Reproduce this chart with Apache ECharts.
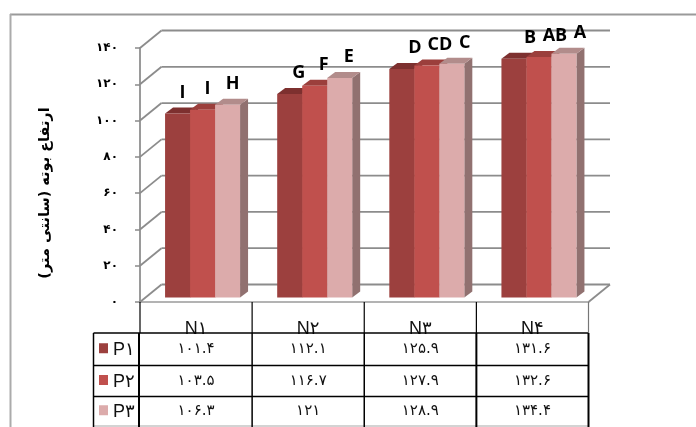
<!DOCTYPE html>
<html>
<head>
<meta charset="utf-8">
<style>html,body{margin:0;padding:0;background:#fff}#chart{width:696px;height:427px}</style>
<script src="https://cdn.jsdelivr.net/npm/echarts@6/dist/echarts.min.js"></script>
</head>
<body>
<div id="chart"></div>
<script>
// Plant height by nitrogen level (N) and phosphorus level (P)
const categories = ['N۱', 'N۲', 'N۳', 'N۴'];
const seriesNames = ['P۱', 'P۲', 'P۳'];
const p1Values = [101.4, 112.1, 125.9, 131.6];
const p2Values = [103.5, 116.7, 127.9, 132.6];
const p3Values = [106.3, 121, 128.9, 134.4];
const p1Letters = ['I', 'G', 'D', 'B'];
const p2Letters = ['I', 'F', 'CD', 'AB'];
const p3Letters = ['H', 'E', 'C', 'A'];
const p1Cells = ['۱۰۱.۴', '۱۱۲.۱', '۱۲۵.۹', '۱۳۱.۶'];
const p2Cells = ['۱۰۳.۵', '۱۱۶.۷', '۱۲۷.۹', '۱۳۲.۶'];
const p3Cells = ['۱۰۶.۳', '۱۲۱', '۱۲۸.۹', '۱۳۴.۴'];
const yTicks = [0, 20, 40, 60, 80, 100, 120, 140];
const yTickLabels = ['۰', '۲۰', '۴۰', '۶۰', '۸۰', '۱۰۰', '۱۲۰', '۱۴۰'];
const yTitle = '\u200Fارتفاع بوته (سانتی متر)\u200F';

// Perspective and layout constants for the pseudo-3D look
const WALL_DX = 21.5, WALL_DY = -17.5;   // floor depth
const BAR_DX = 8, BAR_DY = -6;           // bar depth
const PLANE_DX = 6.5, PLANE_DY = -4.5;   // bars stand a little behind the front edge
const BAR_W = 25;
const LETTER_RISE = 21;                  // letter height above a bar's front top
const LETTER_SHIFT = [5, 9, 13, 16];     // the letters drift right, group by group

const palette = [
  { front: '#9c403e', top: '#7d302f', side: '#7d302f' },
  { front: '#c0504d', top: '#9b3f3c', side: '#9b3f3c' },
  { front: '#dcabab', top: '#b28c8b', side: '#917170' }
];
const GRID_COLOR = '#8c8c8c';

const grid = { left: 140, right: 107.5, top: 48, bottom: 125 };

function wallItem(params, api) {
  const v = api.value(0);
  const p = api.coord([0, v]);
  const x0 = grid.left;
  const x1 = 696 - grid.right;
  const y = p[1];
  const line = (a, b, c, d) => ({
    type: 'line',
    shape: { x1: a, y1: b, x2: c, y2: d },
    style: { stroke: GRID_COLOR, lineWidth: 1.8 }
  });
  const children = [
    line(x0, y, x0 + WALL_DX, y + WALL_DY),
    line(x0 + WALL_DX, y + WALL_DY, x1 + WALL_DX, y + WALL_DY)
  ];
  if (v === 0) children.push(line(x1, y, x1 + WALL_DX, y + WALL_DY));
  return { type: 'group', children };
}

function barRenderer(seriesIndex, letters) {
  return function (params, api) {
    const cat = api.value(0);
    const val = api.value(1);
    const top = api.coord([cat, val]);
    const base = api.coord([cat, 0]);
    const x = top[0] + PLANE_DX + (seriesIndex - 1.5) * BAR_W;
    const yT = top[1] + PLANE_DY;
    const yB = base[1] + PLANE_DY;
    const c = palette[seriesIndex];
    const poly = (points, fill) => ({
      type: 'polygon', shape: { points }, style: { fill, stroke: null }
    });
    return {
      type: 'group',
      children: [
        poly([[x + BAR_W, yT], [x + BAR_W + BAR_DX, yT + BAR_DY], [x + BAR_W + BAR_DX, yB + BAR_DY], [x + BAR_W, yB]], c.side),
        poly([[x, yT], [x + BAR_DX, yT + BAR_DY], [x + BAR_W + BAR_DX, yT + BAR_DY], [x + BAR_W, yT]], c.top),
        { type: 'rect', shape: { x, y: yT, width: BAR_W, height: yB - yT }, style: { fill: c.front } },
        {
          type: 'text',
          style: {
            text: letters[params.dataIndex],
            x: x + BAR_W / 2 + LETTER_SHIFT[params.dataIndex],
            y: yT - LETTER_RISE,
            align: 'center', verticalAlign: 'middle',
            fill: '#000', font: 'bold 18px "Open Sans", "Liberation Sans", sans-serif'
          }
        }
      ]
    };
  };
}

const valueSets = [p1Values, p2Values, p3Values];
const letterSets = [p1Letters, p2Letters, p3Letters];
const cellSets = [p1Cells, p2Cells, p3Cells];

// Data table beneath the plot, with the legend keys in its first column
function tableGraphics() {
  const left = grid.left;
  const right = 696 - grid.right;
  const colW = (right - left) / categories.length;
  const headTop = 427 - grid.bottom;
  const rows = [333, 365.5, 396.5, 426];
  const tableLeft = 93.5;
  const els = [];
  const seg = (a, b, c, d, stroke, lineWidth) => els.push({
    type: 'line', z: 100, shape: { x1: a, y1: b, x2: c, y2: d }, style: { stroke, lineWidth }
  });
  // outer frame of the chart area
  seg(10, 14.5, 696, 14.5, '#9a9a9a', 2);
  seg(10.5, 14, 10.5, 427, '#ababab', 2);
  // horizontal rules
  seg(tableLeft, rows[0], right, rows[0], '#000', 1.5);
  seg(tableLeft, rows[1], right, rows[1], '#000', 1.5);
  seg(tableLeft, rows[2], right, rows[2], '#000', 1.5);
  seg(tableLeft, rows[3], right, rows[3], '#c4c4c4', 1.5);
  // vertical rules: header part, then body
  for (let i = 0; i <= categories.length; i++) {
    const x = left + colW * i;
    seg(x, headTop, x, rows[0], i === categories.length ? '#777' : '#000', 1.2);
    seg(i === 0 ? x - 1 : x, rows[0], i === 0 ? x - 1 : x, 427, '#000', i === 2 || i === 1 ? 1.5 : 2);
  }
  seg(tableLeft, rows[0], tableLeft, 427, '#000', 1.5);
  // row headers with keys, then the values
  seriesNames.forEach((name, r) => {
    const mid = (rows[r] + rows[r + 1]) / 2;
    els.push({
      type: 'rect', z: 101,
      shape: { x: 99, y: mid - 6, width: 9, height: 10 },
      style: { fill: palette[r].front }
    });
    els.push({
      type: 'text', z: 101,
      style: {
        text: name, x: 113, y: mid + 1, align: 'left', verticalAlign: 'middle',
        fill: '#111', font: '18px "Liberation Sans", "DejaVu Sans", sans-serif'
      }
    });
    cellSets[r].forEach((cell, c) => {
      els.push({
        type: 'text', z: 101,
        style: {
          text: cell, x: left + colW * (c + 0.5), y: mid,
          align: 'center', verticalAlign: 'middle',
          fill: '#111', font: '15px "DejaVu Sans", sans-serif'
        }
      });
    });
  });
  return els;
}

const chart = echarts.init(document.getElementById('chart'), null, { renderer: 'canvas' });
chart.setOption({
  animation: false,
  backgroundColor: '#fff',
  grid,
  graphic: { elements: tableGraphics() },
  xAxis: {
    type: 'category',
    data: categories,
    axisLine: { show: true, lineStyle: { color: '#9a9a9a', width: 1.5 } },
    axisTick: { show: false },
    splitLine: { show: false },
    axisLabel: {
      margin: 18, color: '#111', fontSize: 18, interval: 0,
      fontFamily: '"Liberation Sans", "DejaVu Sans", sans-serif'
    }
  },
  yAxis: {
    type: 'value',
    min: 0, max: 140, interval: 20,
    name: yTitle,
    nameLocation: 'middle',
    nameGap: 87,
    nameRotate: 90,
    nameTextStyle: {
      color: '#000', fontSize: 14.5, fontWeight: 'bold',
      fontFamily: '"DejaVu Sans", sans-serif',
      padding: [0, 36, 0, 0]
    },
    axisLine: { show: true, lineStyle: { color: '#9a9a9a', width: 2 } },
    axisTick: { show: true, length: 5, lineStyle: { color: '#8a8a8a', width: 1.5 } },
    splitLine: { show: false },
    axisLabel: {
      margin: 22, color: '#000', fontSize: 12, fontWeight: 'bold',
      fontFamily: '"DejaVu Sans", sans-serif',
      formatter: (v) => yTickLabels[yTicks.indexOf(v)]
    }
  },
  series: [
    {
      type: 'custom',
      name: 'walls',
      coordinateSystem: 'cartesian2d',
      silent: true,
      z: 1,
      clip: false,
      encode: { y: 0 },
      data: yTicks.map((t) => [t]),
      renderItem: wallItem
    }
  ].concat(seriesNames.map((name, i) => ({
    type: 'custom',
    name,
    coordinateSystem: 'cartesian2d',
    z: 3 + i,
    clip: false,
    encode: { x: 0, y: 1 },
    data: valueSets[i].map((v, c) => [c, v]),
    renderItem: barRenderer(i, letterSets[i])
  })))
});
</script>
</body>
</html>
